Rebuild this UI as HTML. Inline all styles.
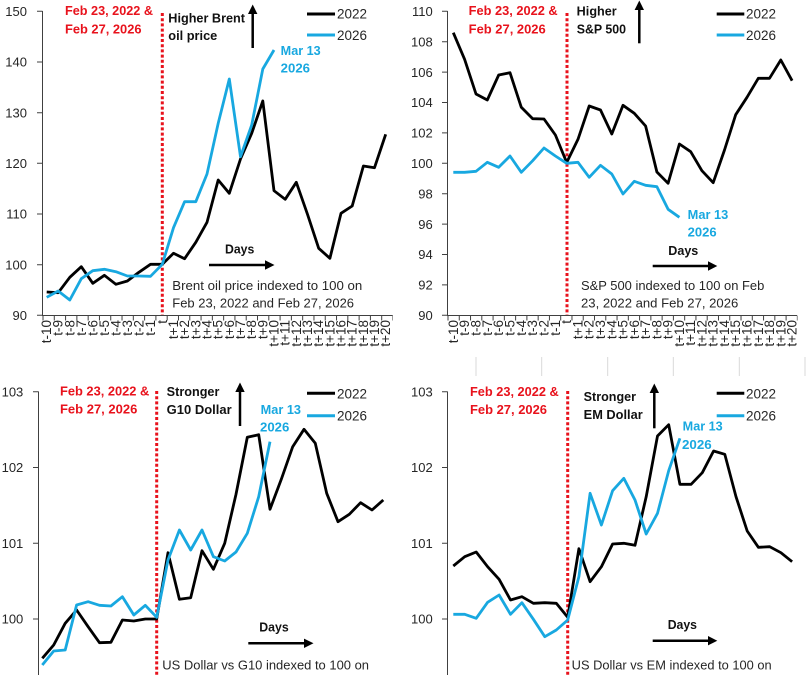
<!DOCTYPE html>
<html><head><meta charset="utf-8"><style>
html,body{margin:0;padding:0;background:#fff;}
svg{display:block;}
text{font-family:"Liberation Sans",sans-serif;}
.yt{font-size:13px;fill:#262626;text-anchor:end;}
.xt{font-size:13.5px;fill:#262626;text-anchor:end;}
.red{font-size:12.5px;font-weight:bold;fill:#e8121c;}
.bk{font-size:12.5px;font-weight:bold;fill:#111;}
.bl{font-size:12.5px;font-weight:bold;fill:#18a8e0;}
.ann{font-size:12.5px;fill:#262626;}
.leg{font-size:13.5px;fill:#262626;}
.s22{fill:none;stroke:#000;stroke-width:2.8;stroke-linejoin:round;}
.s26{fill:none;stroke:#18a8e0;stroke-width:2.8;stroke-linejoin:round;}
.ax{stroke:#404040;stroke-width:1;fill:none;}
.dot{stroke:#e8121c;stroke-width:3;stroke-dasharray:3 2.2;}
</style></head><body>
<svg width="812" height="675" viewBox="0 0 812 675" xmlns="http://www.w3.org/2000/svg">

<!-- ============ PANEL 1 (Brent) ============ -->
<g>
<text class="yt" x="27" y="16">150</text>
<text class="yt" x="27" y="66.7">140</text>
<text class="yt" x="27" y="117.4">130</text>
<text class="yt" x="27" y="168">120</text>
<text class="yt" x="27" y="218.7">110</text>
<text class="yt" x="27" y="269.4">100</text>
<text class="yt" x="27" y="320">90</text>
<path class="ax" d="M42.5,11 V315.5 H392.5"/>
<path class="ax" d="M37,11.3H42.5M37,62H42.5M37,112.7H42.5M37,163.3H42.5M37,214H42.5M37,264.7H42.5M37,315.3H42.5"/>
<line x1="42.5" y1="318" x2="393" y2="318" stroke="#404040" stroke-width="5" stroke-dasharray="1 10.29"/>
<line class="dot" x1="162.3" y1="13" x2="162.3" y2="315"/>
<g class="xt">
<text transform="translate(51.2,320) rotate(-90)">t-10</text>
<text transform="translate(62.7,320) rotate(-90)">t-9</text>
<text transform="translate(74.3,320) rotate(-90)">t-8</text>
<text transform="translate(85.8,320) rotate(-90)">t-7</text>
<text transform="translate(97.3,320) rotate(-90)">t-6</text>
<text transform="translate(108.9,320) rotate(-90)">t-5</text>
<text transform="translate(120.4,320) rotate(-90)">t-4</text>
<text transform="translate(131.9,320) rotate(-90)">t-3</text>
<text transform="translate(143.4,320) rotate(-90)">t-2</text>
<text transform="translate(155.0,320) rotate(-90)">t-1</text>
<text transform="translate(166.8,320) rotate(-90)">t</text>
<text transform="translate(178.0,320) rotate(-90)">t+1</text>
<text transform="translate(189.1,320) rotate(-90)">t+2</text>
<text transform="translate(200.3,320) rotate(-90)">t+3</text>
<text transform="translate(211.5,320) rotate(-90)">t+4</text>
<text transform="translate(222.7,320) rotate(-90)">t+5</text>
<text transform="translate(233.8,320) rotate(-90)">t+6</text>
<text transform="translate(245.0,320) rotate(-90)">t+7</text>
<text transform="translate(256.2,320) rotate(-90)">t+8</text>
<text transform="translate(267.3,320) rotate(-90)">t+9</text>
<text transform="translate(278.5,320) rotate(-90)">t+10</text>
<text transform="translate(289.7,320) rotate(-90)">t+11</text>
<text transform="translate(300.8,320) rotate(-90)">t+12</text>
<text transform="translate(312.0,320) rotate(-90)">t+13</text>
<text transform="translate(323.2,320) rotate(-90)">t+14</text>
<text transform="translate(334.4,320) rotate(-90)">t+15</text>
<text transform="translate(345.5,320) rotate(-90)">t+16</text>
<text transform="translate(356.7,320) rotate(-90)">t+17</text>
<text transform="translate(367.9,320) rotate(-90)">t+18</text>
<text transform="translate(379.0,320) rotate(-90)">t+19</text>
<text transform="translate(390.2,320) rotate(-90)">t+20</text>
</g>
<text class="red" x="65" y="15" textLength="88" lengthAdjust="spacingAndGlyphs">Feb 23, 2022 &amp;</text>
<text class="red" x="65" y="33.3" textLength="76.5" lengthAdjust="spacingAndGlyphs">Feb 27, 2026</text>
<text class="bk" x="168.3" y="22.7" textLength="76.7" lengthAdjust="spacingAndGlyphs">Higher Brent</text>
<text class="bk" x="168.3" y="40" textLength="49" lengthAdjust="spacingAndGlyphs">oil price</text>
<line x1="252.7" y1="48" x2="252.7" y2="14" stroke="#000" stroke-width="2.5"/>
<path d="M248,14 L252.7,4.5 L257.4,14 z" fill="#000"/>
<line x1="307" y1="14" x2="335" y2="14" stroke="#000" stroke-width="3"/>
<text class="leg" x="337" y="18.5" textLength="30" lengthAdjust="spacingAndGlyphs">2022</text>
<line x1="307" y1="35" x2="335" y2="35" stroke="#18a8e0" stroke-width="3"/>
<text class="leg" x="337" y="40" textLength="30" lengthAdjust="spacingAndGlyphs">2026</text>
<text class="bl" x="280.7" y="55" textLength="40" lengthAdjust="spacingAndGlyphs">Mar 13</text>
<text class="bl" x="280.7" y="72.7" textLength="29.3" lengthAdjust="spacingAndGlyphs">2026</text>
<text class="bk" x="225" y="253.3" textLength="29.3" lengthAdjust="spacingAndGlyphs">Days</text>
<line x1="209" y1="265" x2="266" y2="265" stroke="#000" stroke-width="2.5"/>
<path d="M265,260.3 L274.5,265 L265,269.7 z" fill="#000"/>
<text class="ann" x="172.3" y="290" textLength="190" lengthAdjust="spacingAndGlyphs">Brent oil price indexed to 100 on</text>
<text class="ann" x="172.3" y="307.3" textLength="181.7" lengthAdjust="spacingAndGlyphs">Feb 23, 2022 and Feb 27, 2026</text>
<polyline class="s22" points="46.7,292.0 58.2,292.7 69.8,277.3 81.3,266.7 92.8,283.3 104.4,275.3 115.9,284.3 127.4,281.0 138.9,272.3 150.5,264.3 162.3,264.3 173.5,253.3 184.6,258.7 195.8,242.3 207.0,222.3 218.2,180.0 229.3,193.3 240.5,159.0 251.7,133.3 262.8,101.0 274.0,190.7 285.2,199.3 296.3,182.3 307.5,214.3 318.7,248.3 329.9,258.3 341.0,213.3 352.2,206.0 363.4,166.0 374.5,167.7 385.7,134.3"/>
<polyline class="s26" points="46.7,297.3 58.2,291.0 69.8,300.0 81.3,278.7 92.8,270.7 104.4,269.3 115.9,271.7 127.4,276.0 138.9,276.0 150.5,276.3 162.3,264.3 173.5,227.7 184.6,201.7 195.8,201.7 207.0,174.0 218.2,123.3 229.3,79.0 240.5,156.7 251.7,125.0 262.8,69.0 274.0,50.0"/>
</g>

<!-- ============ PANEL 2 (S&P) ============ -->
<g>
<text class="yt" x="432.7" y="16">110</text>
<text class="yt" x="432.7" y="46.4">108</text>
<text class="yt" x="432.7" y="76.8">106</text>
<text class="yt" x="432.7" y="107.2">104</text>
<text class="yt" x="432.7" y="137.6">102</text>
<text class="yt" x="432.7" y="168">100</text>
<text class="yt" x="432.7" y="198.4">98</text>
<text class="yt" x="432.7" y="228.8">96</text>
<text class="yt" x="432.7" y="259.2">94</text>
<text class="yt" x="432.7" y="289.6">92</text>
<text class="yt" x="432.7" y="320">90</text>
<path class="ax" d="M447.5,11 V315.5 H797"/>
<path class="ax" d="M442,11.3H447.5M442,41.7H447.5M442,72.1H447.5M442,102.5H447.5M442,132.9H447.5M442,163.3H447.5M442,193.7H447.5M442,224.1H447.5M442,254.5H447.5M442,284.9H447.5M442,315.3H447.5"/>
<line x1="447.5" y1="318" x2="797.5" y2="318" stroke="#404040" stroke-width="5" stroke-dasharray="1 10.27"/>
<line class="dot" x1="567" y1="13" x2="567" y2="315"/>
<g class="xt">
<text transform="translate(457.8,320) rotate(-90)">t-10</text>
<text transform="translate(469.1,320) rotate(-90)">t-9</text>
<text transform="translate(480.5,320) rotate(-90)">t-8</text>
<text transform="translate(491.8,320) rotate(-90)">t-7</text>
<text transform="translate(503.2,320) rotate(-90)">t-6</text>
<text transform="translate(514.5,320) rotate(-90)">t-5</text>
<text transform="translate(525.8,320) rotate(-90)">t-4</text>
<text transform="translate(537.2,320) rotate(-90)">t-3</text>
<text transform="translate(548.5,320) rotate(-90)">t-2</text>
<text transform="translate(559.9,320) rotate(-90)">t-1</text>
<text transform="translate(571.2,320) rotate(-90)">t</text>
<text transform="translate(582.5,320) rotate(-90)">t+1</text>
<text transform="translate(593.7,320) rotate(-90)">t+2</text>
<text transform="translate(605.0,320) rotate(-90)">t+3</text>
<text transform="translate(616.3,320) rotate(-90)">t+4</text>
<text transform="translate(627.5,320) rotate(-90)">t+5</text>
<text transform="translate(638.8,320) rotate(-90)">t+6</text>
<text transform="translate(650.1,320) rotate(-90)">t+7</text>
<text transform="translate(661.4,320) rotate(-90)">t+8</text>
<text transform="translate(672.6,320) rotate(-90)">t+9</text>
<text transform="translate(683.9,320) rotate(-90)">t+10</text>
<text transform="translate(695.2,320) rotate(-90)">t+11</text>
<text transform="translate(706.4,320) rotate(-90)">t+12</text>
<text transform="translate(717.7,320) rotate(-90)">t+13</text>
<text transform="translate(729.0,320) rotate(-90)">t+14</text>
<text transform="translate(740.2,320) rotate(-90)">t+15</text>
<text transform="translate(751.5,320) rotate(-90)">t+16</text>
<text transform="translate(762.8,320) rotate(-90)">t+17</text>
<text transform="translate(774.0,320) rotate(-90)">t+18</text>
<text transform="translate(785.3,320) rotate(-90)">t+19</text>
<text transform="translate(796.6,320) rotate(-90)">t+20</text>
</g>
<text class="red" x="468.7" y="15" textLength="89" lengthAdjust="spacingAndGlyphs">Feb 23, 2022 &amp;</text>
<text class="red" x="468.7" y="33.3" textLength="77" lengthAdjust="spacingAndGlyphs">Feb 27, 2026</text>
<text class="bk" x="576.7" y="15.3" textLength="40" lengthAdjust="spacingAndGlyphs">Higher</text>
<text class="bk" x="576.7" y="33.3" textLength="49.3" lengthAdjust="spacingAndGlyphs">S&amp;P 500</text>
<line x1="639.3" y1="43.3" x2="639.3" y2="10" stroke="#000" stroke-width="2.5"/>
<path d="M634.6,10 L639.3,0.5 L644,10 z" fill="#000"/>
<line x1="716.7" y1="14" x2="744.3" y2="14" stroke="#000" stroke-width="3"/>
<text class="leg" x="746" y="18.5" textLength="30" lengthAdjust="spacingAndGlyphs">2022</text>
<line x1="716.7" y1="35" x2="744.3" y2="35" stroke="#18a8e0" stroke-width="3"/>
<text class="leg" x="746" y="40" textLength="30" lengthAdjust="spacingAndGlyphs">2026</text>
<text class="bl" x="687.7" y="219" textLength="40.6" lengthAdjust="spacingAndGlyphs">Mar 13</text>
<text class="bl" x="687.7" y="236.7" textLength="29" lengthAdjust="spacingAndGlyphs">2026</text>
<text class="bk" x="668.3" y="255" textLength="30" lengthAdjust="spacingAndGlyphs">Days</text>
<line x1="652.7" y1="266" x2="709" y2="266" stroke="#000" stroke-width="2.5"/>
<path d="M708,261.3 L717.3,266 L708,270.7 z" fill="#000"/>
<text class="ann" x="581" y="290" textLength="183.3" lengthAdjust="spacingAndGlyphs">S&amp;P 500 indexed to 100 on Feb</text>
<text class="ann" x="581" y="307.5" textLength="157.3" lengthAdjust="spacingAndGlyphs">23, 2022 and Feb 27, 2026</text>
<polyline class="s22" points="453.3,32.7 464.6,59.3 476.0,94.0 487.3,100.0 498.7,75.0 510.0,72.7 521.3,107.3 532.7,118.7 544.0,119.0 555.4,135.0 566.7,162.5 578.0,139.3 589.2,106.0 600.5,110.0 611.8,134.0 623.0,105.3 634.3,113.3 645.6,126.0 656.9,172.0 668.1,183.3 679.4,144.0 690.7,151.7 701.9,170.7 713.2,182.7 724.5,150.0 735.7,114.7 747.0,97.3 758.3,78.3 769.5,78.3 780.8,60.0 792.1,80.7"/>
<polyline class="s26" points="453.3,172.3 464.6,172.3 476.0,171.3 487.3,162.3 498.7,167.3 510.0,156.0 521.3,172.3 532.7,160.7 544.0,148.0 555.4,156.0 566.7,163.3 578.0,162.3 589.2,177.3 600.5,165.3 611.8,174.0 623.0,194.0 634.3,181.3 645.6,185.3 656.9,186.7 668.1,209.3 679.4,217.3"/>
</g>

<!-- faint grid marks between panels (right) -->
<g stroke="#d9d9d9" stroke-width="1">
<line x1="476" y1="357" x2="476" y2="376"/>
<line x1="541.7" y1="357" x2="541.7" y2="376"/>
<line x1="607.7" y1="357" x2="607.7" y2="376"/>
<line x1="673.3" y1="357" x2="673.3" y2="376"/>
<line x1="739.3" y1="357" x2="739.3" y2="376"/>
<line x1="805" y1="357" x2="805" y2="376"/>
</g>

<!-- ============ PANEL 3 (G10) ============ -->
<g>
<text class="yt" x="23.3" y="396.4">103</text>
<text class="yt" x="23.3" y="472.2">102</text>
<text class="yt" x="23.3" y="548">101</text>
<text class="yt" x="23.3" y="623.7">100</text>
<path class="ax" d="M38.5,391.5 V675"/>
<path class="ax" d="M33,391.7H38.5M33,467.5H38.5M33,543.3H38.5M33,619H38.5"/>
<line class="dot" x1="156.7" y1="391" x2="156.7" y2="676"/>
<text class="red" x="60" y="395.7" textLength="89.3" lengthAdjust="spacingAndGlyphs">Feb 23, 2022 &amp;</text>
<text class="red" x="60" y="413.3" textLength="77.3" lengthAdjust="spacingAndGlyphs">Feb 27, 2026</text>
<text class="bk" x="166.7" y="396" textLength="52.7" lengthAdjust="spacingAndGlyphs">Stronger</text>
<text class="bk" x="166.7" y="414" textLength="65" lengthAdjust="spacingAndGlyphs">G10 Dollar</text>
<line x1="240" y1="426" x2="240" y2="392" stroke="#000" stroke-width="2.5"/>
<path d="M235.3,392 L240,382.5 L244.7,392 z" fill="#000"/>
<line x1="307" y1="393.3" x2="335" y2="393.3" stroke="#000" stroke-width="3"/>
<text class="leg" x="337" y="398.3" textLength="30" lengthAdjust="spacingAndGlyphs">2022</text>
<line x1="307" y1="415.7" x2="335" y2="415.7" stroke="#18a8e0" stroke-width="3"/>
<text class="leg" x="337" y="420.5" textLength="30" lengthAdjust="spacingAndGlyphs">2026</text>
<text class="bl" x="260.7" y="414" textLength="40.3" lengthAdjust="spacingAndGlyphs">Mar 13</text>
<text class="bl" x="260" y="431.7" textLength="29.3" lengthAdjust="spacingAndGlyphs">2026</text>
<text class="bk" x="259.3" y="631.7" textLength="29.4" lengthAdjust="spacingAndGlyphs">Days</text>
<line x1="248.3" y1="643.3" x2="305" y2="643.3" stroke="#000" stroke-width="2.5"/>
<path d="M304,638.6 L313.5,643.3 L304,648 z" fill="#000"/>
<text class="ann" x="162.3" y="669.3" textLength="206.7" lengthAdjust="spacingAndGlyphs">US Dollar vs G10 indexed to 100 on</text>
<polyline class="s22" points="42.3,658.3 53.7,645.0 65.2,623.3 76.6,610.0 88.1,626.7 99.5,642.7 110.9,642.3 122.4,620.0 133.8,621.0 145.3,619.0 156.7,619.0 168.0,552.7 179.4,599.3 190.7,597.7 202.0,550.7 213.4,569.3 224.7,543.3 236.0,494.3 247.3,437.3 258.7,434.7 270.0,509.3 281.3,479.3 292.7,446.7 304.0,429.3 315.3,443.3 326.7,493.3 338.0,521.7 349.3,514.3 360.6,502.7 372.0,510.0 383.3,500.0"/>
<polyline class="s26" points="42.3,665.0 53.7,651.0 65.2,650.0 76.6,605.0 88.1,601.7 99.5,605.3 110.9,606.0 122.4,596.7 133.8,615.0 145.3,605.3 156.7,617.3 168.0,560.0 179.4,530.0 190.7,550.0 202.0,530.0 213.4,556.7 224.7,561.0 236.0,552.0 247.3,533.3 258.7,496.7 270.0,441.7"/>
</g>

<!-- ============ PANEL 4 (EM) ============ -->
<g>
<text class="yt" x="432.7" y="396.4">103</text>
<text class="yt" x="432.7" y="472.2">102</text>
<text class="yt" x="432.7" y="548">101</text>
<text class="yt" x="432.7" y="623.7">100</text>
<path class="ax" d="M447.5,391.5 V675"/>
<path class="ax" d="M442,391.7H447.5M442,467.5H447.5M442,543.3H447.5M442,619H447.5"/>
<line class="dot" x1="567.7" y1="391" x2="567.7" y2="676"/>
<text class="red" x="470" y="396" textLength="88.7" lengthAdjust="spacingAndGlyphs">Feb 23, 2022 &amp;</text>
<text class="red" x="470" y="414" textLength="77" lengthAdjust="spacingAndGlyphs">Feb 27, 2026</text>
<text class="bk" x="583.7" y="401" textLength="52.3" lengthAdjust="spacingAndGlyphs">Stronger</text>
<text class="bk" x="583.7" y="419" textLength="59" lengthAdjust="spacingAndGlyphs">EM Dollar</text>
<line x1="654.3" y1="428.3" x2="654.3" y2="393" stroke="#000" stroke-width="2.5"/>
<path d="M649.6,393 L654.3,383.5 L659,393 z" fill="#000"/>
<line x1="716.7" y1="393.3" x2="744.3" y2="393.3" stroke="#000" stroke-width="3"/>
<text class="leg" x="746" y="398.3" textLength="30" lengthAdjust="spacingAndGlyphs">2022</text>
<line x1="716.7" y1="415.7" x2="744.3" y2="415.7" stroke="#18a8e0" stroke-width="3"/>
<text class="leg" x="746" y="420.5" textLength="30" lengthAdjust="spacingAndGlyphs">2026</text>
<text class="bl" x="682.7" y="430.7" textLength="40" lengthAdjust="spacingAndGlyphs">Mar 13</text>
<text class="bl" x="682" y="449" textLength="29.7" lengthAdjust="spacingAndGlyphs">2026</text>
<text class="bk" x="667.7" y="629" textLength="29.3" lengthAdjust="spacingAndGlyphs">Days</text>
<line x1="652.7" y1="640.7" x2="709" y2="640.7" stroke="#000" stroke-width="2.5"/>
<path d="M708,636 L717.3,640.7 L708,645.4 z" fill="#000"/>
<text class="ann" x="571.7" y="669.3" textLength="200" lengthAdjust="spacingAndGlyphs">US Dollar vs EM indexed to 100 on</text>
<polyline class="s22" points="453.3,566.0 464.7,556.7 476.2,552.0 487.6,566.7 499.1,579.3 510.5,600.0 521.9,596.7 533.4,603.3 544.8,602.7 556.3,603.3 567.7,617.3 578.9,548.7 590.1,581.7 601.4,566.7 612.6,544.0 623.8,543.3 635.0,545.3 646.2,496.7 657.5,436.0 668.7,424.7 679.9,484.3 691.1,484.3 702.3,472.7 713.6,451.0 724.8,454.3 736.0,496.7 747.2,531.0 758.4,547.3 769.7,546.7 780.9,552.7 792.1,561.7"/>
<polyline class="s26" points="453.3,614.3 464.7,614.3 476.2,618.3 487.6,602.3 499.1,595.0 510.5,614.3 521.9,602.7 533.4,619.3 544.8,636.7 556.3,630.0 567.7,620.0 578.9,576.7 590.1,493.3 601.4,525.0 612.6,490.7 623.8,478.3 635.0,500.0 646.2,534.0 657.5,513.3 668.7,470.7 679.9,438.3"/>
</g>
</svg>
</body></html>
